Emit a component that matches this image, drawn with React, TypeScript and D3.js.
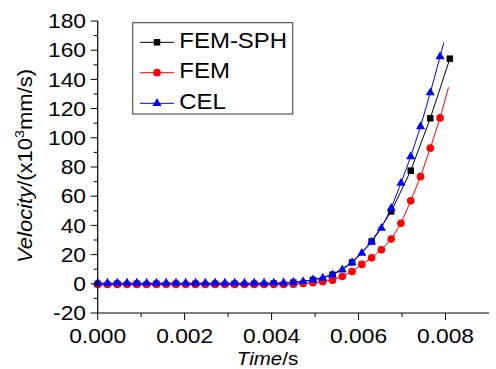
import React from "react";
import * as d3 from "d3";

// sampled times (s) for FEM and CEL
const time = [
  0, 0.000225, 0.00045, 0.000675, 0.0009, 0.001125, 0.00135, 0.001575, 0.0018,
  0.002025, 0.00225, 0.002475, 0.0027, 0.002925, 0.00315, 0.003375, 0.0036,
  0.003825, 0.00405, 0.004275, 0.0045, 0.004725, 0.00495, 0.005175, 0.0054,
  0.005625, 0.00585, 0.006075, 0.0063, 0.006525, 0.00675, 0.006975, 0.0072,
  0.007425, 0.00765, 0.007875,
];

const femVel = [
  -0.5, -0.5, -0.5, -0.5, -0.5, -0.5, -0.5, -0.5, -0.5, -0.5, -0.5, -0.5, -0.5,
  -0.5, -0.5, -0.5, -0.5, -0.5, -0.5, -0.4, -0.3, 0.2, 0.7, 1.4, 2.5, 5, 8.4,
  13.3, 17.8, 23.3, 30.6, 41.5, 56.8, 73.4, 92.9, 113.6,
];
const femTail = [0.00807, 134.6];

const celVel = [
  0.5, 0.5, 0.5, 0.5, 0.5, 0.5, 0.5, 0.5, 0.5, 0.5, 0.5, 0.5, 0.5, 0.5, 0.5,
  0.5, 0.5, 0.5, 0.6, 0.7, 1.0, 1.6, 2.7, 3.9, 6.2, 9.6, 14.6, 21, 28.7, 38.1,
  51.8, 68.9, 87.1, 107.7, 130.9, 155.6,
];
const celTail = [0.00796, 165.2];

// FEM-SPH is sampled every other step
const sphTime = [
  0, 0.00045, 0.0009, 0.00135, 0.0018, 0.00225, 0.0027, 0.00315, 0.0036,
  0.00405, 0.0045, 0.00495, 0.0054, 0.00585, 0.0063, 0.00675, 0.0072, 0.00765,
  0.0081,
];
const sphVel = [
  0, 0, 0, 0, 0, 0, 0, 0, 0, 0.2, 0.8, 2.7, 6.2, 14.6, 29, 49.5, 77.5, 113.4,
  154.2,
];

const xMajor = [0, 0.002, 0.004, 0.006, 0.008];
const xMinor = [0.001, 0.003, 0.005, 0.007];
const yMajor = [-20, 0, 20, 40, 60, 80, 100, 120, 140, 160, 180];
const yMinor = [-10, 10, 30, 50, 70, 90, 110, 130, 150, 170];

const series = [
  { name: "FEM-SPH", color: "#000000", symbol: d3.symbolSquare, size: 42 },
  { name: "FEM", color: "#ff0000", symbol: d3.symbolCircle, size: 46 },
  { name: "CEL", color: "#0000ff", symbol: d3.symbolTriangle, size: 36 },
];

const FONT = "'Liberation Sans', Arial, sans-serif";

export default function App() {
  const W = 496;
  const H = 369;
  const x = d3.scaleLinear().domain([0, 0.009]).range([97.7, 489]);
  const y = d3.scaleLinear().domain([-20, 180]).range([313, 21]);

  const line = d3
    .line<number[]>()
    .x((d) => x(d[0]))
    .y((d) => y(d[1]));

  const sphPts = sphTime.map((t, i) => [t, sphVel[i]]);
  const femPts = time.map((t, i) => [t, femVel[i]]);
  const celPts = time.map((t, i) => [t, celVel[i]]);

  const data = [
    { pts: sphPts, line: sphPts },
    { pts: femPts, line: [...femPts, femTail] },
    { pts: celPts, line: [...celPts, celTail] },
  ];

  const x0 = x.range()[0];
  const y0 = y.range()[0];

  return (
    <svg
      width={W}
      height={H}
      style={{ position: "absolute", left: 0, top: 0, background: "#fff" }}
      fontFamily={FONT}
    >
      {/* series */}
      {data.map((d, i) => {
        const s = series[i];
        const sym = d3.symbol().type(s.symbol).size(s.size)()!;
        return (
          <g key={s.name}>
            <path d={line(d.line)!} fill="none" stroke={s.color} strokeWidth={1} />
            {d.pts.map((p, j) => (
              <path
                key={j}
                d={sym}
                transform={`translate(${x(p[0])},${y(p[1])})`}
                fill={s.color}
              />
            ))}
          </g>
        );
      })}

      {/* axes */}
      <line x1={x0} x2={x0} y1={y(180)} y2={y0} stroke="#000" strokeWidth={1.2} />
      <line x1={x0} x2={x.range()[1]} y1={y0} y2={y0} stroke="#000" strokeWidth={1.2} />
      {yMajor.map((v) => (
        <g key={"ym" + v}>
          <line x1={x0 - 7} x2={x0} y1={y(v)} y2={y(v)} stroke="#000" />
          <text
            transform={`translate(86,${y(v)}) scale(1.14,1)`}
            dy="0.36em"
            textAnchor="end"
            fontSize={20}
          >
            {v}
          </text>
        </g>
      ))}
      {yMinor.map((v) => (
        <line key={"yn" + v} x1={x0 - 4} x2={x0} y1={y(v)} y2={y(v)} stroke="#000" />
      ))}
      {xMajor.map((v) => (
        <g key={"xm" + v}>
          <line x1={x(v)} x2={x(v)} y1={y0} y2={y0 + 7} stroke="#000" />
          <text
            transform={`translate(${x(v)},343) scale(1.14,1)`}
            textAnchor="middle"
            fontSize={20}
          >
            {v.toFixed(3)}
          </text>
        </g>
      ))}
      {xMinor.map((v) => (
        <line key={"xn" + v} x1={x(v)} x2={x(v)} y1={y0} y2={y0 + 4} stroke="#000" />
      ))}

      {/* axis titles */}
      <text
        transform="translate(267.5,365) scale(1.08,1)"
        textAnchor="middle"
        fontSize={19}
      >
        <tspan fontStyle="italic">Time</tspan>/s
      </text>
      <text
        transform="translate(32,166) rotate(-90) scale(1.1,1)"
        textAnchor="middle"
        fontSize={20}
      >
        <tspan fontStyle="italic">Velocity</tspan>
        <tspan>/(x10</tspan>
        <tspan fontSize={13} dy={-8}>
          3
        </tspan>
        <tspan dy={8}>mm/s)</tspan>
      </text>

      {/* legend */}
      <rect x={132.7} y={22.7} width={160} height={91.3} fill="#fff" stroke="#333" strokeWidth={1} />
      {series.map((s, i) => {
        const ry = [42.3, 72.7, 103.3][i];
        const sym = d3.symbol().type(s.symbol).size(s.size)()!;
        return (
          <g key={"lg" + s.name}>
            <line x1={140} x2={174} y1={ry} y2={ry} stroke={s.color} strokeWidth={1} />
            <path d={sym} transform={`translate(157,${ry})`} fill={s.color} />
            <text
              transform={`translate(179.3,${ry + 5.4}) scale(1.09,1)`}
              fontSize={22}
            >
              {s.name}
            </text>
          </g>
        );
      })}
    </svg>
  );
}
